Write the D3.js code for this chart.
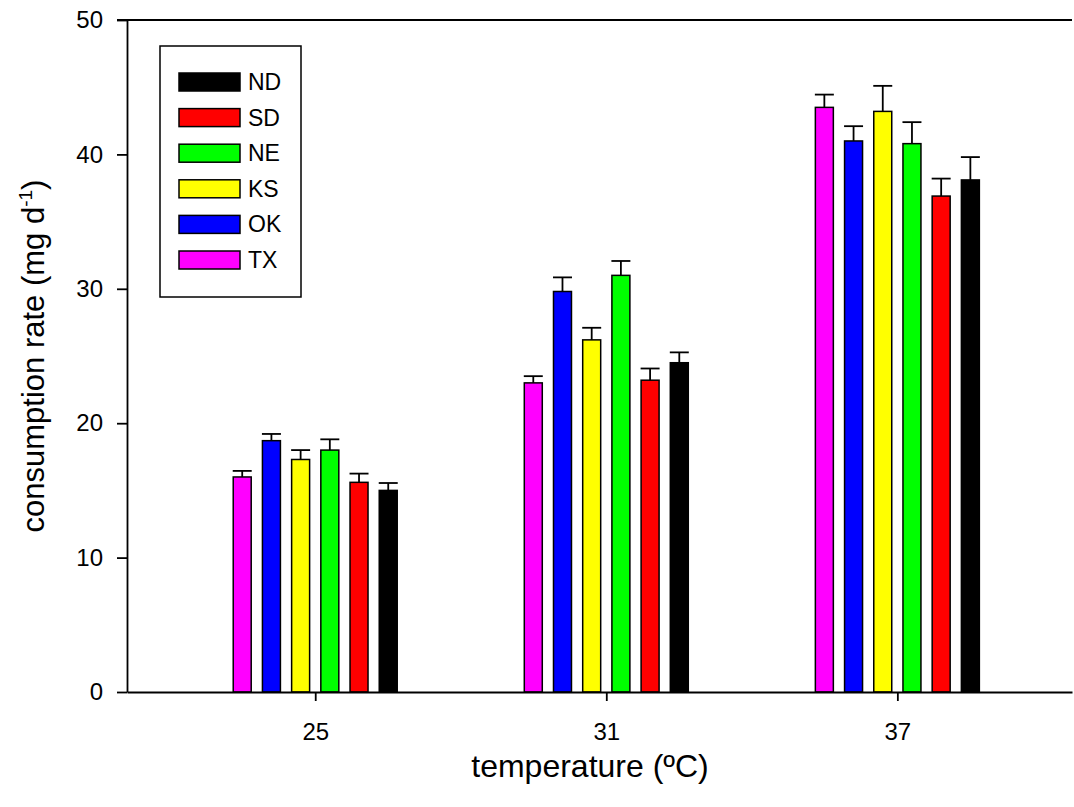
<!DOCTYPE html>
<html>
<head>
<meta charset="utf-8">
<script src="https://cdn.jsdelivr.net/npm/d3@7"></script>
<style>
  html, body { margin: 0; padding: 0; background: #fff; }
  svg { display: block; font-family: "Liberation Sans", Arial, sans-serif; }
</style>
</head>
<body>
<svg id="chart" width="1074" height="807"></svg>
<script>
// Temperatures (x categories) and populations (bar series, drawn left to right)
const temperatures = [25, 31, 37];
const populations = ["TX", "OK", "KS", "NE", "SD", "ND"];
const legendOrder = ["ND", "SD", "NE", "KS", "OK", "TX"];
const colors = { TX: "#ff00ff", OK: "#0000ff", KS: "#ffff00", NE: "#00ff00", SD: "#ff0000", ND: "#000000" };

// Mean consumption rate (mg d^-1) per temperature, one array per population
const meanTX = [16.0, 23.0, 43.5];
const meanOK = [18.7, 29.8, 41.0];
const meanKS = [17.3, 26.2, 43.2];
const meanNE = [18.0, 31.0, 40.8];
const meanSD = [15.6, 23.2, 36.9];
const meanND = [15.0, 24.5, 38.1];

// Standard errors (upper bars only)
const seTX = [0.45, 0.5, 0.95];
const seOK = [0.5, 1.05, 1.1];
const seKS = [0.7, 0.9, 1.9];
const seNE = [0.8, 1.07, 1.6];
const seSD = [0.65, 0.87, 1.3];
const seND = [0.55, 0.77, 1.7];

const yTicks = [0, 10, 20, 30, 40, 50];

const means = { TX: meanTX, OK: meanOK, KS: meanKS, NE: meanNE, SD: meanSD, ND: meanND };
const errs = { TX: seTX, OK: seOK, KS: seKS, NE: seNE, SD: seSD, ND: seND };

const rows = [];
temperatures.forEach((t, i) => {
  populations.forEach(p => rows.push({ t, pop: p, mean: means[p][i], se: errs[p][i] }));
});

const svg = d3.select("#chart");
const plotLeft = 127, plotRight = 1072, plotTop = 20, plotBottom = 692;

const x = d3.scaleLinear().domain([21.12, 40.6]).range([plotLeft, plotRight]);
const y = d3.scaleLinear().domain([0, 50]).range([plotBottom, plotTop]);
const inner = d3.scaleBand().domain(populations).range([-82, 82]).paddingInner(0.384).paddingOuter(0);

// Bars
svg.append("g").selectAll("rect").data(rows).join("rect")
  .attr("x", d => x(d.t) + inner(d.pop))
  .attr("y", d => y(d.mean))
  .attr("width", inner.bandwidth())
  .attr("height", d => y(0) - y(d.mean))
  .attr("fill", d => colors[d.pop])
  .attr("stroke", "#000")
  .attr("stroke-width", 1.5);

// Error bars
const eb = svg.append("g").attr("stroke", "#000").attr("stroke-width", 1.8);
eb.selectAll("line.v").data(rows).join("line").attr("class", "v")
  .attr("x1", d => x(d.t) + inner(d.pop) + inner.bandwidth() / 2)
  .attr("x2", d => x(d.t) + inner(d.pop) + inner.bandwidth() / 2)
  .attr("y1", d => y(d.mean))
  .attr("y2", d => y(d.mean + d.se));
eb.selectAll("line.c").data(rows).join("line").attr("class", "c")
  .attr("x1", d => x(d.t) + inner(d.pop) - 0.5)
  .attr("x2", d => x(d.t) + inner(d.pop) + inner.bandwidth() + 0.5)
  .attr("y1", d => y(d.mean + d.se))
  .attr("y2", d => y(d.mean + d.se));

// Axes
const yAxis = svg.append("g").attr("transform", `translate(${plotLeft},0)`)
  .call(d3.axisLeft(y).tickValues(yTicks).tickSize(10).tickSizeOuter(0).tickPadding(14));
const xAxis = svg.append("g").attr("transform", `translate(0,${plotBottom})`)
  .call(d3.axisBottom(x).tickValues(temperatures).tickSize(9).tickSizeOuter(0).tickPadding(22));
[yAxis, xAxis].forEach(g => {
  g.attr("font-size", 24).attr("font-family", "'Liberation Sans', Arial, sans-serif");
  g.selectAll("path, line").attr("stroke", "#000").attr("stroke-width", 1.8);
  g.selectAll("text").attr("fill", "#000");
});
// Top frame line
svg.append("line").attr("x1", x.range()[0] - 10).attr("x2", x.range()[1])
  .attr("y1", y(50)).attr("y2", y(50)).attr("stroke", "#000").attr("stroke-width", 1.8);

// Axis titles
svg.append("text").attr("x", 590).attr("y", 777)
  .attr("text-anchor", "middle").attr("font-size", 32).text("temperature (ºC)");

const yt = svg.append("text").attr("transform", `translate(44,${(plotTop + plotBottom) / 2}) rotate(-90)`)
  .attr("text-anchor", "middle").attr("font-size", 31);
yt.append("tspan").text("consumption rate (mg d");
yt.append("tspan").attr("dy", -12).attr("font-size", 19).text("-1");
yt.append("tspan").attr("dy", 12).text(")");

// Legend
const lg = svg.append("g");
lg.append("rect").attr("x", 160).attr("y", 46).attr("width", 141).attr("height", 251)
  .attr("fill", "#fff").attr("stroke", "#000").attr("stroke-width", 1.5);
const ly = d3.scalePoint().domain(legendOrder).range([82, 260]);
legendOrder.forEach(p => {
  lg.append("rect").attr("x", 179).attr("y", ly(p) - 9).attr("width", 61).attr("height", 18)
    .attr("fill", colors[p]).attr("stroke", "#000").attr("stroke-width", 1.5);
  lg.append("text").attr("x", 248).attr("y", ly(p) + 8).attr("font-size", 23).text(p);
});
</script>
</body>
</html>
